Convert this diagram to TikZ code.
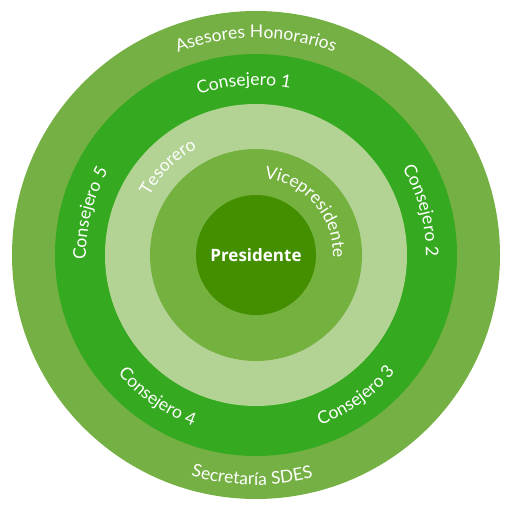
\documentclass[tikz,border=0pt]{standalone}
\usepackage{fontspec}
\setmainfont{Lato}
\newfontfamily\presfont{Open Sans}
\usetikzlibrary{decorations.text}
\definecolor{ringA}{HTML}{74B043}
\definecolor{ringB}{HTML}{35A91F}
\definecolor{ringC}{HTML}{B2D394}
\definecolor{ringD}{HTML}{74B13F}
\definecolor{coreE}{HTML}{438F00}
\tikzset{
  ringfill/.style={fill=#1, draw=none},
  arclabel/.style={decorate, decoration={text along path, text align=center, text color=white,
     text={|\fontsize{17.5}{20}\selectfont|#1}}}
}
\newcommand\ringLabel[4]{%
  \path[arclabel={#4}] (ctr) ++(#2:#1) arc[start angle=#2, end angle=#3, radius=#1];}
\begin{document}
\begin{tikzpicture}[x=1pt,y=1pt]
\useasboundingbox (0,0) rectangle (506,509);
\coordinate (ctr) at (256,254);
\fill[ringfill=ringA] (ctr) circle[radius=244];
\fill[ringfill=ringB] (ctr) circle[radius=201];
\fill[ringfill=ringC] (ctr) circle[radius=151];
\fill[ringfill=ringD] (ctr) circle[radius=106];
\fill[ringfill=coreE] (ctr) circle[radius=60];
\node[text=white, font=\presfont\bfseries\fontsize{17}{20}\selectfont] (pres) at (ctr) {Presidente};
% clockwise labels (tops outward)
\ringLabel{217}{150}{30}{Asesores Honorarios}
\ringLabel{170}{144}{44}{Consejero 1}
\ringLabel{170}{65}{-35}{Consejero 2}
\ringLabel{170}{216}{116}{Consejero 5}
\ringLabel{122}{185}{85}{Tesorero}
\ringLabel{77}{121}{-39}{Vicepresidente}
% counterclockwise labels (tops inward)
\ringLabel{182}{-104.7}{-4.7}{Consejero 3}
\ringLabel{182}{-174.8}{-74.8}{Consejero 4}
\ringLabel{230}{-141}{-41}{Secretaría SDES}
\end{tikzpicture}
\end{document}
